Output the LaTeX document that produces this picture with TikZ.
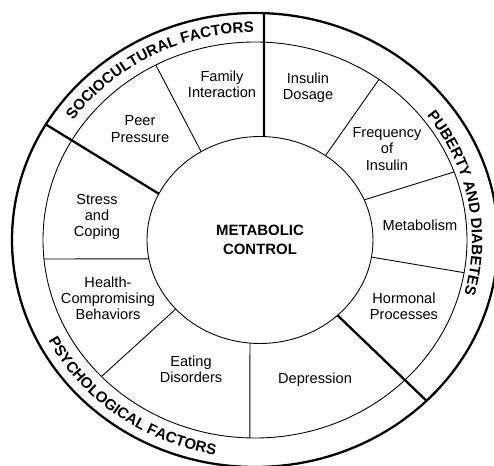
\documentclass[tikz,border=0pt]{standalone}
\usepackage{fontspec}
\setmainfont{Liberation Sans}
\usetikzlibrary{decorations.text}
\newcommand\bandfont{\fontsize{8.6}{9}\selectfont\bfseries}
\begin{document}
\begin{tikzpicture}[x=0.02cm,y=0.02cm,
  thinline/.style={line width=0.5pt},
  sectionline/.style={line width=1.3pt},
  rimline/.style={line width=1.3pt},
  factor/.style={align=center, font=\fontsize{8.3}{9.2}\selectfont, inner sep=0pt},
  hub/.style={align=center, font=\fontsize{8.5}{11}\selectfont\bfseries, inner sep=0pt},
  band/.style={decorate, decoration={text along path, text align=center, text={#1}}},
  ring/.style={shift={(-5,0)}}
]
\useasboundingbox (-260,-226) rectangle (234,240);
\clip (-260,-226) rectangle (234,240);

% rings: inner disc, factor ring, outer band
\draw[thinline] (0,0) ellipse[x radius=113, y radius=103.5];
\draw[thinline] (-5,0) ellipse[x radius=212, y radius=198];
\draw[rimline]  (-5,0) ellipse[x radius=243, y radius=227];

% section dividers (inner disc to outer rim)
\draw[sectionline] (88:113 and 103.5)    -- ([ring]87.9:243 and 227);
\draw[sectionline] (153.5:113 and 103.5) -- ([ring]149.4:243 and 227);
\draw[sectionline] (-46.7:113 and 103.5) -- ([ring]-45.1:243 and 227);

% factor dividers (inner disc to factor ring)
\draw[thinline] (121.4:113 and 103.5) -- ([ring]117.9:212 and 198);
\draw[thinline] (54.6:113 and 103.5)  -- ([ring]54.2:212 and 198);
\draw[thinline] (22.8:113 and 103.5)  -- ([ring]20.1:212 and 198);
\draw[thinline] (-9.5:113 and 103.5)  -- ([ring]-9.5:212 and 198);
\draw[thinline] (-95.1:113 and 103.5) -- ([ring]-91.4:212 and 198);
\draw[thinline] (221.8:113 and 103.5) -- ([ring]223.6:212 and 198);
\draw[thinline] (190.5:113 and 103.5) -- ([ring]185.5:212 and 198);

% curved section titles
\path[band={|\bandfont|SOCIOCULTURAL FACTORS}]
  ([ring]160:222 and 207.5) arc[start angle=160, end angle=76, x radius=222, y radius=207.5];
\path[band={|\bandfont|PUBERTY AND DIABETES}]
  ([ring]50:217 and 204) arc[start angle=50, end angle=-28, x radius=217, y radius=204];
\path[band={|\bandfont|PSYCHOLOGICAL FACTORS}]
  ([ring]195:233 and 218) arc[start angle=195, end angle=272, x radius=233, y radius=218];

% labels
\node[hub] (mc) at (0,0) {METABOLIC\\CONTROL};
\node[factor] (family) at (-38,156) {Family\\Interaction};
\node[factor] (peer) at (-120,111) {Peer\\Pressure};
\node[factor] (dosage) at (48,152) {Insulin\\Dosage};
\node[factor] (freq) at (127,91) {Frequency\\of\\Insulin};
\node[factor] (metab) at (160,15) {Metabolism};
\node[factor] (hormone) at (144,-66) {Hormonal\\Processes};
\node[factor] (depr) at (55,-140) {Depression};
\node[factor] (eating) at (-69,-129) {Eating\\Disorders};
\node[factor] (health) at (-152,-58) {Health-\\Compromising\\Behaviors};
\node[factor] (stress) at (-163,23) {Stress\\and\\Coping};
\end{tikzpicture}
\end{document}
